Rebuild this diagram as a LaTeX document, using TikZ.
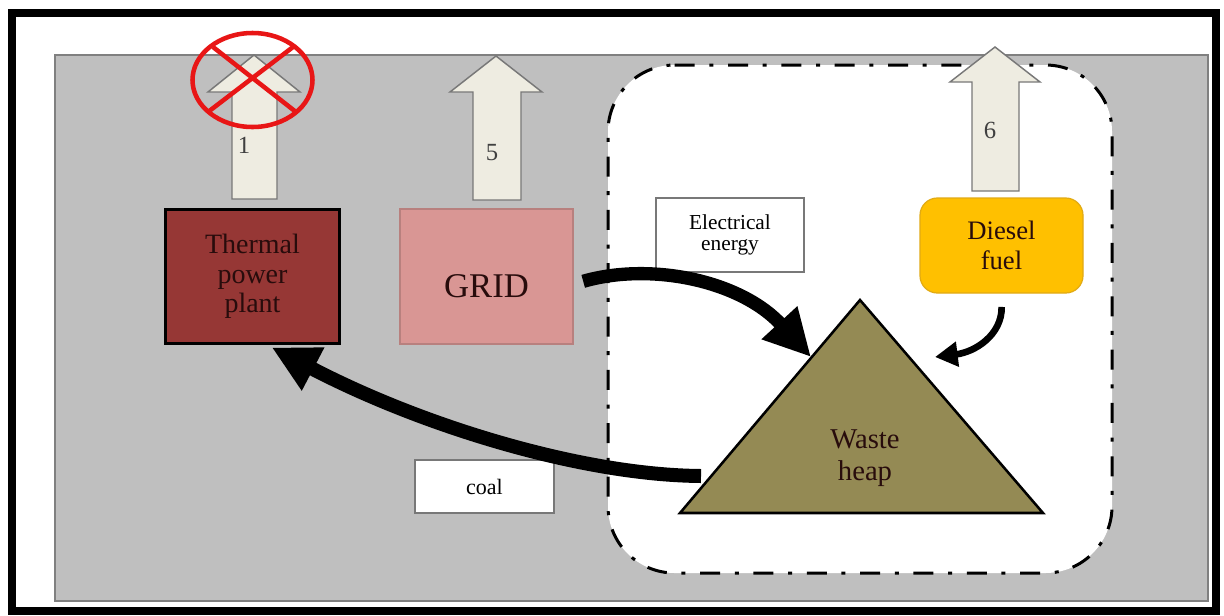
\documentclass[tikz,border=0pt]{standalone}
\usepackage{fontspec}
\setmainfont{Liberation Serif}
\usetikzlibrary{arrows.meta}

\definecolor{panelgray}{RGB}{191,191,191}
\definecolor{panelline}{RGB}{128,128,128}
\definecolor{arrowfill}{RGB}{238,236,225}
\definecolor{arrowline}{RGB}{120,120,120}
\definecolor{thermalred}{RGB}{150,55,53}
\definecolor{gridpink}{RGB}{217,150,148}
\definecolor{dieselyellow}{RGB}{255,192,0}
\definecolor{dieselline}{RGB}{225,170,20}
\definecolor{heapolive}{RGB}{148,138,84}
\definecolor{crossred}{RGB}{232,22,22}
\definecolor{numgray}{RGB}{64,64,64}
\definecolor{darktext}{RGB}{40,12,12}

\tikzset{every picture/.style={line width=0.75pt}}

\begin{document}
\begin{tikzpicture}[x=0.75pt,y=0.75pt,yscale=-1,xscale=1,
  uparrow/.style={draw=arrowline,fill=arrowfill,line width=1.1pt},
  tagbox/.style={draw=arrowline,fill=white,line width=1.1pt,inner sep=0pt,align=center},
  flow/.style={line width=10pt,-{Triangle[length=35pt,width=34pt]}},
  thinflow/.style={line width=5pt,-{Triangle[length=17pt,width=18pt]}},
  numtext/.style={text=numgray,font=\fontsize{18.5}{22}\selectfont,inner sep=0.75pt}]
%set diagram left start at 0, and has height of 615
\path[fill=white] (0,0) rectangle (1224,615);

%Shape: Rectangle [frame]
\draw  [line width=6pt]  (11.5,12.5) -- (1216,12.5) -- (1216,611) -- (11.5,611) -- cycle ;
%Shape: Rectangle [panel]
\draw  [draw=panelline,fill=panelgray,line width=1.5pt]  (55,55) -- (1208,55) -- (1208,601) -- (55,601) -- cycle ;
%Rounded Rect [site]
\draw  [fill=white,line width=2.25pt,rounded corners=50pt,dash pattern={on 15pt off 11pt on 3pt off 11pt}]  (608,65) -- (1112,65) -- (1112,573) -- (608,573) -- cycle ;

%Shape: Up Arrow [1]
\draw  [uparrow]  (232,199) -- (232,92) -- (208,92) -- (254,55) -- (300,92) -- (277,92) -- (277,199) -- cycle ;
%Shape: Up Arrow [5]
\draw  [uparrow]  (473,200) -- (473,92) -- (450,92) -- (496,56) -- (542,92) -- (521,92) -- (521,200) -- cycle ;
%Shape: Up Arrow [6]
\draw  [uparrow]  (972,191) -- (972,82) -- (950,82) -- (995,47) -- (1040,82) -- (1019,82) -- (1019,191) -- cycle ;

%Shape: Ellipse [crossed out]
\draw  [draw=crossred,line width=3.4pt]  (252.5,80) ellipse [x radius=60,y radius=47] ;
\draw  [draw=crossred,line width=3.4pt]  (213,47) -- (296,112) (293,47) -- (208,112) ;

%Shape: Triangle [heap]
\coordinate (heapTop) at (860,300) ;
\coordinate (heapLeft) at (680,513) ;
\coordinate (heapRight) at (1043,513) ;
\draw  [fill=heapolive,line width=1.9pt]  (heapTop) -- (heapLeft) -- (heapRight) -- cycle ;
\coordinate (heapIn) at (811,357) ;
\coordinate (fuelIn) at (935,357) ;
\coordinate (coalOut) at (701,476) ;

% Text Node
\draw (252.5,276.5) node [draw=black,line width=2.25pt,fill=thermalred,minimum width=131pt,minimum height=100.5pt,inner sep=0pt,align=center,text=darktext,font=\fontsize{21}{22}\selectfont] (thermal) {Thermal\\power\\plant};
% Text Node
\draw (486.5,276.5) node [draw=gridpink!85!black,line width=0.9pt,fill=gridpink,minimum width=129.75pt,minimum height=101.25pt,inner sep=0pt,text=darktext,font=\fontsize{26}{30}\selectfont] (grid) {\raisebox{-7pt}[\height][0pt]{GRID}};
% Text Node
\draw (1001.5,245.5) node [draw=dieselline,line width=0.9pt,fill=dieselyellow,rounded corners=13pt,minimum width=122.25pt,minimum height=71.25pt,inner sep=0pt,align=center,text=darktext,font=\fontsize{20}{22.5}\selectfont] (diesel) {Diesel\\fuel};
% Text Node
\draw (730,235) node [tagbox,minimum width=111pt,minimum height=55.5pt,font=\fontsize{16}{15.5}\selectfont] (elec) {Electrical\\energy};
% Text Node
\draw (484.5,486.5) node [tagbox,minimum width=104.25pt,minimum height=39.75pt,font=\fontsize{16.5}{18}\selectfont] (coal) {coal};
% Text Node
\draw (865,458) node [inner sep=0.75pt,align=center,text=darktext,font=\fontsize{21.5}{24}\selectfont] (heap) {Waste\\heap};
% Text Node
\draw (244,145) node [numtext] (n1) {1};
% Text Node
\draw (492,153) node [numtext] (n5) {5};
% Text Node
\draw (990,130) node [numtext] (n6) {6};

%Curve Lines [flows]
\draw  [flow,shorten <=7.5pt]  (grid.-5) .. controls (650,262) and (740,280) .. (heapIn) ;
\draw  [thinflow,shorten <=10pt]  (diesel.south) .. controls (1002,335) and (975,352) .. (fuelIn) ;
\draw  [flow,line width=10.5pt,shorten >=4pt]  (coalOut) .. controls (580,475) and (420,425) .. (thermal.-78) ;

\end{tikzpicture}
\end{document}
